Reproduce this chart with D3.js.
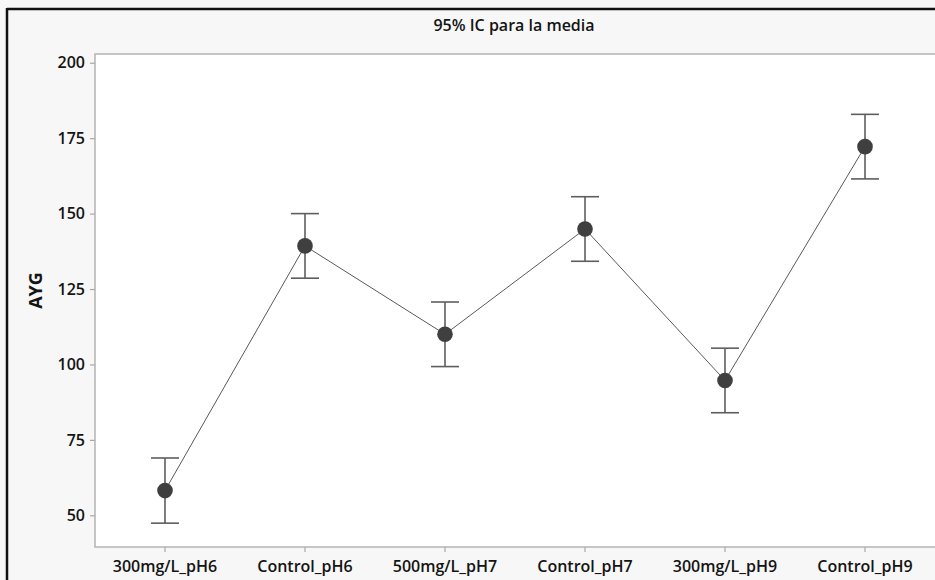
<!DOCTYPE html>
<html>
<head>
<meta charset="utf-8">
<script src="https://cdn.jsdelivr.net/npm/d3@7"></script>
<style>
  html, body { margin: 0; padding: 0; background: #f7f7f7; }
  svg { display: block; }
</style>
</head>
<body>
<svg id="chart" width="935" height="580"></svg>
<script>
// Groups and their mean AYG with 95% confidence limits
const categories = ["300mg/L_pH6", "Control_pH6", "500mg/L_pH7", "Control_pH7", "300mg/L_pH9", "Control_pH9"];
const means = [58.2, 139.3, 110.0, 144.9, 94.7, 172.2];
const lower = [47.4, 128.6, 99.3, 134.2, 84.0, 161.5];
const upper = [69.0, 150.0, 120.7, 155.6, 105.4, 182.9];
const yTicks = [50, 75, 100, 125, 150, 175, 200];

const svg = d3.select("#chart");
const W = 935, H = 580;
const plot = { left: 95, top: 54, right: 936, bottom: 547 };
const font = "'Open Sans', 'Noto Sans', sans-serif";

// outer frame
svg.append("rect").attr("x", 0).attr("y", 0).attr("width", W).attr("height", H).attr("fill", "#f7f7f7");
svg.append("line").attr("x1", 7).attr("x2", W).attr("y1", 9).attr("y2", 9)
  .attr("stroke", "#111").attr("stroke-width", 2.5);
svg.append("line").attr("x1", 7).attr("x2", 7).attr("y1", 8).attr("y2", H)
  .attr("stroke", "#111").attr("stroke-width", 2.5);

// plot area
svg.append("rect")
  .attr("x", plot.left).attr("y", plot.top)
  .attr("width", plot.right - plot.left).attr("height", plot.bottom - plot.top)
  .attr("fill", "#ffffff").attr("stroke", "#b4b4b4").attr("stroke-width", 1.5);

const x = d3.scaleBand().domain(categories).range([plot.left, plot.right - 1]).paddingInner(0).paddingOuter(0);
const y = d3.scaleLinear().domain([39.5, 202.9]).range([plot.bottom, plot.top]);
const cx = c => x(c) + x.bandwidth() / 2;

// axes
const yAxis = svg.append("g").attr("transform", `translate(${plot.left},0)`)
  .call(d3.axisLeft(y).tickValues(yTicks).tickSize(5).tickPadding(5));
const xAxis = svg.append("g").attr("transform", `translate(0,${plot.bottom})`)
  .call(d3.axisBottom(x).tickSize(5).tickPadding(6));
[yAxis, xAxis].forEach(a => {
  a.select(".domain").remove();
  a.selectAll(".tick line").attr("stroke", "#a8a8a8").attr("stroke-width", 1.2);
  a.selectAll(".tick text").attr("fill", "#141414")
    .style("font-family", font).style("font-size", "16px").style("font-weight", "600");
});
xAxis.selectAll(".tick text").attr("dy", "0.85em");

// title and axis label
svg.append("text").attr("x", 514).attr("y", 31).attr("text-anchor", "middle")
  .style("font-family", font).style("font-size", "16px").style("font-weight", "600").attr("fill", "#141414")
  .text("95% IC para la media");
svg.append("text").attr("transform", `translate(42,${(plot.top + plot.bottom) / 2 - 10}) rotate(-90)`)
  .attr("text-anchor", "middle")
  .style("font-family", font).style("font-size", "18px").style("font-weight", "bold").attr("fill", "#141414")
  .text("AYG");

const rows = categories.map((c, i) => ({ c, m: means[i], lo: lower[i], hi: upper[i] }));

// connecting line through the means
svg.append("path").datum(rows)
  .attr("d", d3.line().x(d => cx(d.c)).y(d => y(d.m)))
  .attr("fill", "none").attr("stroke", "#5a5a5a").attr("stroke-width", 1);

// error bars
const eb = svg.append("g").attr("stroke", "#5e5e5e").attr("stroke-width", 1.6);
rows.forEach(d => {
  eb.append("line").attr("x1", cx(d.c)).attr("x2", cx(d.c)).attr("y1", y(d.lo)).attr("y2", y(d.hi));
  eb.append("line").attr("x1", cx(d.c) - 14).attr("x2", cx(d.c) + 14).attr("y1", y(d.lo)).attr("y2", y(d.lo));
  eb.append("line").attr("x1", cx(d.c) - 14).attr("x2", cx(d.c) + 14).attr("y1", y(d.hi)).attr("y2", y(d.hi));
});

// mean markers
svg.append("g").selectAll("circle").data(rows).join("circle")
  .attr("cx", d => cx(d.c)).attr("cy", d => y(d.m)).attr("r", 7.8)
  .attr("fill", "#3f3f3f");
</script>
</body>
</html>
